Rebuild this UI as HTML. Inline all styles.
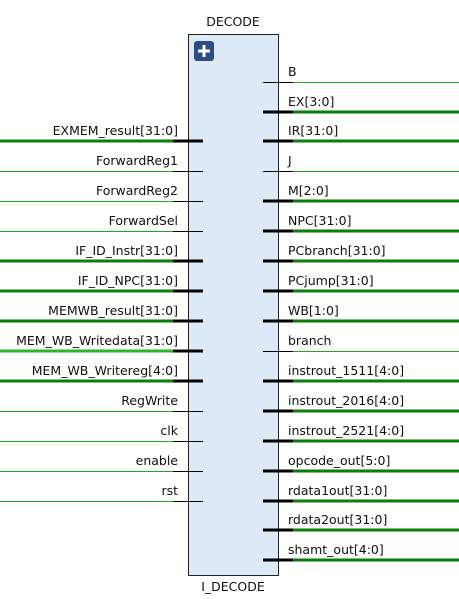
<!DOCTYPE html>
<html><head><meta charset="utf-8"><style>
html,body{margin:0;padding:0;background:#fff;}
svg{display:block;}
text{font-family:"DejaVu Sans","Liberation Sans",sans-serif;font-size:12.5px;fill:#111;}
</style></head><body>
<svg width="459" height="599" viewBox="0 0 459 599">
<rect x="188.5" y="34.5" width="90" height="541" fill="#dde9f7" stroke="#222" stroke-width="1"/>
<text x="233" y="26" text-anchor="middle">DECODE</text>
<text x="233" y="591" text-anchor="middle">I_DECODE</text>
<rect x="194" y="41" width="20" height="20" rx="3" fill="#2e4d86"/>
<path d="M204 45v12M198 51h12" stroke="#fff" stroke-width="3"/>
<g>
<line x1="0" y1="141" x2="173" y2="141" stroke="#0a7d0a" stroke-width="3"/><line x1="173" y1="141" x2="203" y2="141" stroke="#000" stroke-width="3"/><text x="178" y="135" text-anchor="end">EXMEM_result[31:0]</text>
<rect x="0" y="171" width="173" height="1" fill="#1fa81f"/><rect x="173" y="171" width="30" height="1" fill="#000"/><text x="178" y="165" text-anchor="end">ForwardReg1</text>
<rect x="0" y="201" width="173" height="1" fill="#1fa81f"/><rect x="173" y="201" width="30" height="1" fill="#000"/><text x="178" y="195" text-anchor="end">ForwardReg2</text>
<rect x="0" y="231" width="173" height="1" fill="#1fa81f"/><rect x="173" y="231" width="30" height="1" fill="#000"/><text x="178" y="225" text-anchor="end">ForwardSel</text>
<line x1="0" y1="261" x2="173" y2="261" stroke="#0a7d0a" stroke-width="3"/><line x1="173" y1="261" x2="203" y2="261" stroke="#000" stroke-width="3"/><text x="178" y="255" text-anchor="end">IF_ID_Instr[31:0]</text>
<line x1="0" y1="291" x2="173" y2="291" stroke="#0a7d0a" stroke-width="3"/><line x1="173" y1="291" x2="203" y2="291" stroke="#000" stroke-width="3"/><text x="178" y="285" text-anchor="end">IF_ID_NPC[31:0]</text>
<line x1="0" y1="321" x2="173" y2="321" stroke="#0a7d0a" stroke-width="3"/><line x1="173" y1="321" x2="203" y2="321" stroke="#000" stroke-width="3"/><text x="178" y="315" text-anchor="end">MEMWB_result[31:0]</text>
<line x1="0" y1="351" x2="173" y2="351" stroke="#2cb52c" stroke-width="3"/><line x1="173" y1="351" x2="203" y2="351" stroke="#000" stroke-width="3"/><text x="178" y="345" text-anchor="end">MEM_WB_Writedata[31:0]</text>
<line x1="0" y1="381" x2="173" y2="381" stroke="#0a7d0a" stroke-width="3"/><line x1="173" y1="381" x2="203" y2="381" stroke="#000" stroke-width="3"/><text x="178" y="375" text-anchor="end">MEM_WB_Writereg[4:0]</text>
<rect x="0" y="411" width="173" height="1" fill="#1fa81f"/><rect x="173" y="411" width="30" height="1" fill="#000"/><text x="178" y="405" text-anchor="end">RegWrite</text>
<rect x="0" y="441" width="173" height="1" fill="#1fa81f"/><rect x="173" y="441" width="30" height="1" fill="#000"/><text x="178" y="435" text-anchor="end">clk</text>
<rect x="0" y="471" width="173" height="1" fill="#1fa81f"/><rect x="173" y="471" width="30" height="1" fill="#000"/><text x="178" y="465" text-anchor="end">enable</text>
<rect x="0" y="501" width="173" height="1" fill="#1fa81f"/><rect x="173" y="501" width="30" height="1" fill="#000"/><text x="178" y="495" text-anchor="end">rst</text>
</g>
<g>
<rect x="263" y="82" width="30" height="1" fill="#000"/><rect x="293" y="82" width="166" height="1" fill="#1fa81f"/><text x="288" y="76">B</text>
<line x1="263" y1="112" x2="293" y2="112" stroke="#000" stroke-width="3"/><line x1="293" y1="112" x2="459" y2="112" stroke="#0a7d0a" stroke-width="3"/><text x="288" y="106">EX[3:0]</text>
<line x1="263" y1="141" x2="293" y2="141" stroke="#000" stroke-width="3"/><line x1="293" y1="141" x2="459" y2="141" stroke="#0a7d0a" stroke-width="3"/><text x="288" y="135">IR[31:0]</text>
<rect x="263" y="171" width="30" height="1" fill="#000"/><rect x="293" y="171" width="166" height="1" fill="#1fa81f"/><text x="288" y="165">J</text>
<line x1="263" y1="201" x2="293" y2="201" stroke="#000" stroke-width="3"/><line x1="293" y1="201" x2="459" y2="201" stroke="#0a7d0a" stroke-width="3"/><text x="288" y="195">M[2:0]</text>
<line x1="263" y1="231" x2="293" y2="231" stroke="#000" stroke-width="3"/><line x1="293" y1="231" x2="459" y2="231" stroke="#0a7d0a" stroke-width="3"/><text x="288" y="225">NPC[31:0]</text>
<line x1="263" y1="261" x2="293" y2="261" stroke="#000" stroke-width="3"/><line x1="293" y1="261" x2="459" y2="261" stroke="#0a7d0a" stroke-width="3"/><text x="288" y="255">PCbranch[31:0]</text>
<line x1="263" y1="291" x2="293" y2="291" stroke="#000" stroke-width="3"/><line x1="293" y1="291" x2="459" y2="291" stroke="#0a7d0a" stroke-width="3"/><text x="288" y="285">PCjump[31:0]</text>
<line x1="263" y1="321" x2="293" y2="321" stroke="#000" stroke-width="3"/><line x1="293" y1="321" x2="459" y2="321" stroke="#0a7d0a" stroke-width="3"/><text x="288" y="315">WB[1:0]</text>
<rect x="263" y="351" width="30" height="1" fill="#000"/><rect x="293" y="351" width="166" height="1" fill="#1fa81f"/><text x="288" y="345">branch</text>
<line x1="263" y1="381" x2="293" y2="381" stroke="#000" stroke-width="3"/><line x1="293" y1="381" x2="459" y2="381" stroke="#0a7d0a" stroke-width="3"/><text x="288" y="375">instrout_1511[4:0]</text>
<line x1="263" y1="411" x2="293" y2="411" stroke="#000" stroke-width="3"/><line x1="293" y1="411" x2="459" y2="411" stroke="#0a7d0a" stroke-width="3"/><text x="288" y="405">instrout_2016[4:0]</text>
<line x1="263" y1="441" x2="293" y2="441" stroke="#000" stroke-width="3"/><line x1="293" y1="441" x2="459" y2="441" stroke="#0a7d0a" stroke-width="3"/><text x="288" y="435">instrout_2521[4:0]</text>
<line x1="263" y1="471" x2="293" y2="471" stroke="#000" stroke-width="3"/><line x1="293" y1="471" x2="459" y2="471" stroke="#0a7d0a" stroke-width="3"/><text x="288" y="465">opcode_out[5:0]</text>
<line x1="263" y1="501" x2="293" y2="501" stroke="#000" stroke-width="3"/><line x1="293" y1="501" x2="459" y2="501" stroke="#0a7d0a" stroke-width="3"/><text x="288" y="495">rdata1out[31:0]</text>
<line x1="263" y1="530" x2="293" y2="530" stroke="#000" stroke-width="3"/><line x1="293" y1="530" x2="459" y2="530" stroke="#0a7d0a" stroke-width="3"/><text x="288" y="524">rdata2out[31:0]</text>
<line x1="263" y1="560" x2="293" y2="560" stroke="#000" stroke-width="3"/><line x1="293" y1="560" x2="459" y2="560" stroke="#0a7d0a" stroke-width="3"/><text x="288" y="554">shamt_out[4:0]</text>
</g>
</svg>
</body></html>
